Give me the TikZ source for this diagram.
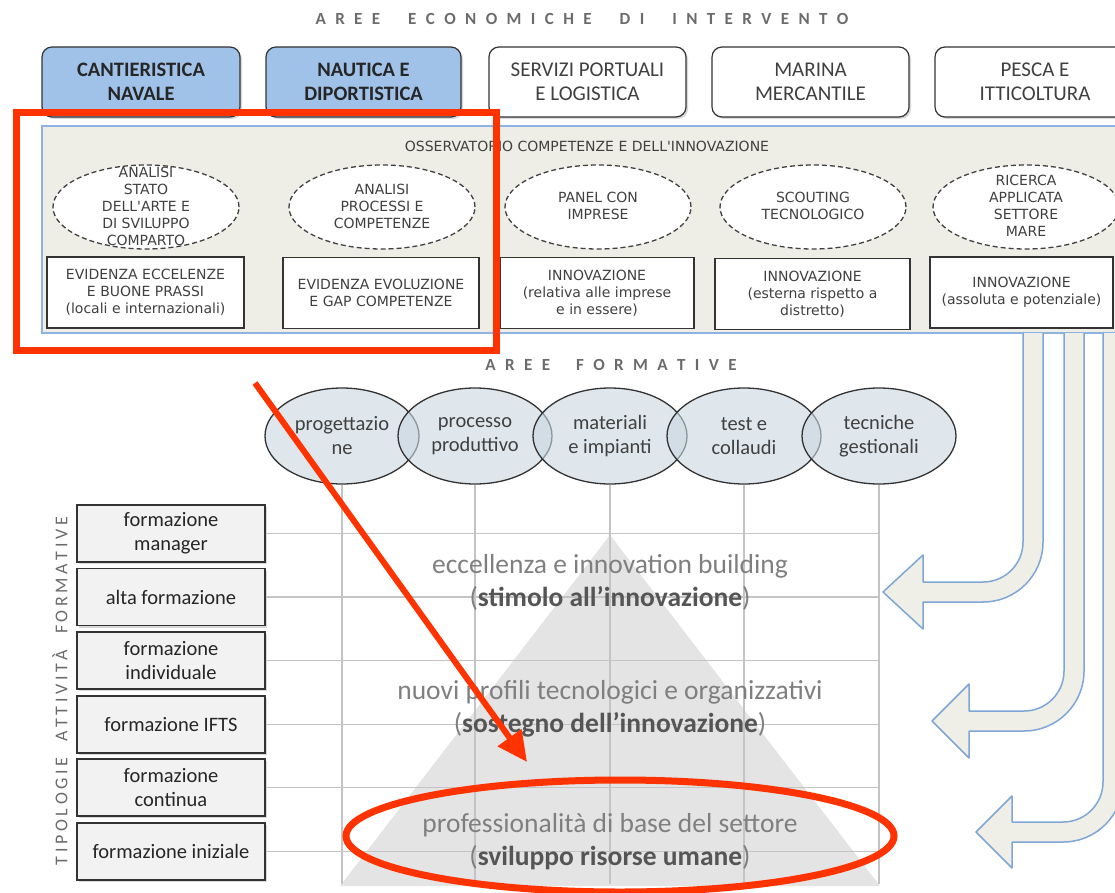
\documentclass[tikz,border=0pt]{standalone}
\usepackage{fontspec}
\setmainfont{Carlito}
\newfontfamily\verd{DejaVu Sans}
\usetikzlibrary{shapes.geometric,shadows,arrows.meta}
\newdimen\SPgap
\def\SPend{}
\def\SPloop#1{\ifx#1\SPend\else#1\kern\SPgap\expandafter\SPloop\fi}
\newcommand\spword[2]{{\SPgap=#1\relax\SPloop#2\SPend\unkern}}
\definecolor{boxblue}{HTML}{A0C2E8}
\definecolor{panelfill}{HTML}{EEEEE6}
\definecolor{panelline}{HTML}{8DB3E2}
\definecolor{ellfill}{HTML}{C9D7E1}
\definecolor{actfill}{HTML}{F2F2F2}
\definecolor{pyrfill}{HTML}{E4E4E4}
\definecolor{gridgray}{HTML}{C4C4C4}
\definecolor{arrfill}{HTML}{EFEFE8}
\definecolor{arrline}{HTML}{7EA6D6}
\definecolor{annred}{HTML}{FF3300}
\definecolor{txtdark}{HTML}{262626}
\definecolor{txtmid}{HTML}{404040}
\definecolor{txtgray}{HTML}{7F7F7F}
\definecolor{txtbold}{HTML}{555555}
\newcommand\bentarrow[5]{%
 \pgfmathsetmacro\BAxi{#1-10}%
 \pgfmathsetmacro\BAxo{#1+10}%
 \pgfmathsetmacro\BAyt{#2-10}%
 \pgfmathsetmacro\BAyb{#2+10}%
 \pgfmathsetmacro\BAxc{#1-50}%
 \pgfmathsetmacro\BAyc{#2-50}%
 \pgfmathsetmacro\BAxci{\BAxc+22.09}%
 \pgfmathsetmacro\BAyci{\BAyc+22.09}%
 \pgfmathsetmacro\BAxco{\BAxc+33.14}%
 \pgfmathsetmacro\BAyco{\BAyc+33.14}%
 \pgfmathsetmacro\BAht{#2-#5}%
 \pgfmathsetmacro\BAhb{#2+#5}%
 \draw[bent] (\BAxi,333) -- (\BAxi,\BAyc) .. controls (\BAxi,\BAyci) and (\BAxci,\BAyt) .. (\BAxc,\BAyt) -- (#4,\BAyt) -- (#4,\BAht) -- (#3,#2) -- (#4,\BAhb) -- (#4,\BAyb) -- (\BAxc,\BAyb) .. controls (\BAxco,\BAyb) and (\BAxo,\BAyco) .. (\BAxo,\BAyc) -- (\BAxo,333);
}
\begin{document}
\begin{tikzpicture}[x=1pt,y=-1pt,
  econbox/.style={draw=black!80, line width=1.2pt, rounded corners=10pt, minimum height=70pt, align=center,
    drop shadow={shadow xshift=2pt, shadow yshift=-2pt, opacity=0.3}},
  econblue/.style={econbox, fill=boxblue, font=\fontsize{20.5}{24}\selectfont\bfseries, text=txtdark},
  econwhite/.style={econbox, fill=white, font=\fontsize{21}{24}\selectfont, text=black!75},
  panel/.style={draw=panelline, line width=2pt, fill=panelfill},
  obsell/.style={ellipse, draw=black!75, dash pattern=on 5pt off 3pt, line width=1.3pt, fill=white, minimum width=186pt, minimum height=84pt, inner sep=0pt},
  obstxt/.style={font=\verd\fontsize{14}{17}\selectfont, text=txtmid, align=center, inner sep=0pt},
  obsbox/.style={draw=black!80, line width=1.3pt, fill=white, align=center, font=\verd\fontsize{14}{17}\selectfont, text=txtmid, minimum height=71pt, inner sep=2pt},
  formell/.style={ellipse, draw=black!80, line width=1.3pt, fill=ellfill, fill opacity=0.6, text opacity=1, minimum width=154pt, minimum height=96pt, align=center, font=\fontsize{20.5}{24}\selectfont, text=txtmid, inner sep=0pt},
  actbox/.style={draw=black!80, line width=1.3pt, fill=actfill, minimum width=188pt, minimum height=57pt, align=center, font=\fontsize{20.5}{24}\selectfont, text=txtdark,
    drop shadow={shadow xshift=2pt, shadow yshift=-2pt, opacity=0.3}},
  gridline/.style={draw=gridgray, line width=1.5pt},
  pyrtxt/.style={font=\fontsize{27.5}{33}\selectfont, text=txtgray, align=center},
  bent/.style={fill=arrfill, draw=arrline, line width=1.5pt, line join=round},
  annot/.style={draw=annred, line width=7pt},
  heading/.style={font=\bfseries\fontsize{17}{20}\selectfont, text=black!58}
]
\useasboundingbox (0,0) rectangle (1115,893);
\clip (0,0) rectangle (1115,893);

% title
\node[heading] (title) at (582,19) {\spword{9.4pt}{AREE}\hspace{28pt}\spword{9.4pt}{ECONOMICHE}\hspace{28pt}\spword{9.4pt}{DI}\hspace{28pt}\spword{9.4pt}{INTERVENTO}};

% economic areas
\node[econblue, minimum width=198pt] (econ1) at (141,82) {CANTIERISTICA\\NAVALE};
\node[econblue, minimum width=195pt] (econ2) at (363.5,82) {NAUTICA E\\DIPORTISTICA};
\node[econwhite, minimum width=197pt] (econ3) at (587.5,82) {SERVIZI PORTUALI\\E LOGISTICA};
\node[econwhite, minimum width=197pt] (econ4) at (810.5,82) {MARINA\\MERCANTILE};
\node[econwhite, minimum width=200pt] (econ5) at (1035,82) {PESCA E\\ITTICOLTURA};

% observatory panel
\node[panel, minimum width=1098pt, minimum height=207pt] (obs) at (591,229.5) {};
\node[obstxt] (obstitle) at (587,146) {OSSERVATORIO COMPETENZE E DELL'INNOVAZIONE};

\node[obsell] (oe1) at (146,207) {};
\node[obsell] (oe2) at (382,207) {};
\node[obsell] (oe3) at (598,207) {};
\node[obsell] (oe4) at (813,207) {};
\node[obsell] (oe5) at (1026,207) {};
\node[obstxt] (ot1) at (146,206) {ANALISI\\STATO\\DELL'ARTE E\\DI SVILUPPO\\COMPARTO};
\node[obstxt] (ot2) at (382,206) {ANALISI\\PROCESSI E\\COMPETENZE};
\node[obstxt] (ot3) at (598,206) {PANEL CON\\IMPRESE};
\node[obstxt] (ot4) at (813,206) {SCOUTING\\TECNOLOGICO};
\node[obstxt] (ot5) at (1026,206) {RICERCA\\APPLICATA\\SETTORE\\MARE};

\node[obsbox, minimum width=197pt] (ob1) at (145.5,292.5) {EVIDENZA ECCELENZE\\E BUONE PRASSI\\(locali e internazionali)};
\node[obsbox, minimum width=196pt] (ob2) at (381,293) {EVIDENZA EVOLUZIONE\\E GAP COMPETENZE};
\node[obsbox, minimum width=194pt] (ob3) at (597,293) {INNOVAZIONE\\(relativa alle imprese\\e in essere)};
\node[obsbox, minimum width=195pt] (ob4) at (812.5,294) {INNOVAZIONE\\(esterna rispetto a\\distretto)};
\node[obsbox, minimum width=183pt] (ob5) at (1021.5,292.5) {INNOVAZIONE\\(assoluta e potenziale)};

% bent arrows from the panel
\bentarrow{1033}{592}{883}{923}{37}
\bentarrow{1074}{721}{932}{969}{37}
\bentarrow{1113}{832}{976}{1012}{36}

% formative areas
\node[heading] (aftitle) at (611,365) {\spword{9.4pt}{AREE}\hspace{26pt}\spword{9.4pt}{FORMATIVE}};

% pyramid
\coordinate (apex) at (610,535);
\coordinate (bl) at (340,886);
\coordinate (br) at (880,886);
\fill[pyrfill] (apex) -- (bl) -- (br) -- cycle;

\coordinate (gridbot) at (0,884);
\coordinate (gridright) at (880,0);

\node[formell] (f1) at (342,436) {progettazio\\ne};
\node[formell] (f2) at (475,436) {processo\\produttivo};
\node[formell] (f3) at (610,436) {materiali\\e impianti};
\node[formell] (f4) at (744,436) {test e\\collaudi};
\node[formell] (f5) at (879,436) {tecniche\\gestionali};

\foreach \f in {f1,f2,f3,f4,f5}
  \draw[gridline] (\f.south) -- (\f.south |- gridbot);

% activity types
\node[actbox] (a1) at (171,533.5) {formazione\\manager};
\node[actbox] (a2) at (171,597) {alta formazione};
\node[actbox] (a3) at (171,660.5) {formazione\\individuale};
\node[actbox] (a4) at (171,724.5) {formazione IFTS};
\node[actbox] (a5) at (171,787.5) {formazione\\continua};
\node[actbox] (a6) at (171,851.5) {formazione iniziale};

\foreach \a in {a1,a2,a3,a4,a5,a6}
  \draw[gridline] (\a.east) -- (\a.east -| gridright);

\node[rotate=90, font=\fontsize{18}{20}\selectfont, text=black!58] (vlabel) at (60,691) {\spword{3.6pt}{TIPOLOGIE}\hspace{16pt}\spword{3.6pt}{ATTIVITÀ}\hspace{16pt}\spword{3.6pt}{FORMATIVE}};

% pyramid texts
\node[pyrtxt] (p1) at (610,582.5) {eccellenza e innovation building\\(\textcolor{txtbold}{\textbf{stimolo all'innovazione}})};
\node[pyrtxt] (p2) at (610,708.5) {nuovi profili tecnologici e organizzativi\\(\textcolor{txtbold}{\textbf{sostegno dell'innovazione}})};
\node[pyrtxt] (p3) at (610,842) {professionalità di base del settore\\(\textcolor{txtbold}{\textbf{sviluppo risorse umane}})};

% red annotations
\node[annot, minimum width=480pt, minimum height=237pt] (focusbox) at (256,231.5) {};
\coordinate (ra) at (255,383);
\coordinate (rb) at (527,762);
\draw[annred, line width=6pt, -{Triangle[length=30pt,width=28pt]}] (ra) -- (rb);
\node[annot, ellipse, minimum width=548pt, minimum height=112pt] (focus) at (620,836) {};
\end{tikzpicture}
\end{document}
